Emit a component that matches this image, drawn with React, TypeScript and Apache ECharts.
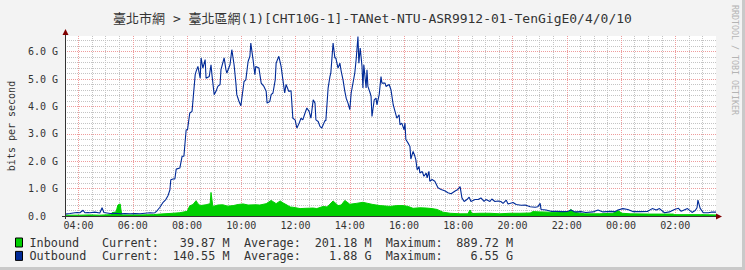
import React, { useEffect, useRef } from 'react';
import * as echarts from 'echarts';

const titleText = '臺北市網 > 臺北區網(1)[CHT10G-1]-TANet-NTU-ASR9912-01-TenGigE0/4/0/10';
const yAxisName = 'bits per second';
const watermark = 'RRDTOOL / TOBI OETIKER';

// time in minutes since 00:00 of the first day (values > 1440 are next day)
const outTimes = [210,221,232,237,243,250,254,261,265,276,287,292,296,310,321,332,343,354,365,376,387,398,405,409,414,420,427,433,438,442,444,449,453,456,464,469,473,478,481,486,491,498,500,504,509,511,515,520,522,529,533,535,540,544,548,553,555,562,566,568,575,579,584,588,590,595,599,606,610,615,619,621,626,630,632,639,644,650,655,657,663,666,670,675,677,683,688,692,696,699,705,710,714,719,723,728,732,736,741,745,750,754,759,763,765,770,774,778,785,787,792,796,798,803,807,809,814,818,821,825,829,832,836,840,843,847,851,854,858,860,863,867,869,871,876,878,880,885,887,889,894,898,900,905,909,911,918,920,927,931,936,940,944,949,951,955,960,962,964,969,973,975,980,984,986,989,993,995,1000,1004,1009,1011,1015,1017,1022,1028,1035,1042,1051,1057,1064,1073,1079,1084,1088,1093,1099,1104,1108,1117,1124,1130,1137,1141,1150,1154,1161,1168,1174,1179,1186,1190,1201,1208,1219,1228,1239,1250,1256,1261,1263,1274,1285,1296,1312,1323,1329,1338,1351,1362,1378,1389,1400,1416,1427,1433,1444,1455,1466,1482,1499,1509,1518,1525,1536,1547,1558,1567,1573,1587,1597,1604,1608,1610,1615,1622,1633,1639,1650];
// Gbit/s
const outValues = [0.07,0.09,0.12,0.13,0.12,0.21,0.12,0.13,0.12,0.14,0.11,0.30,0.13,0.09,0.10,0.08,0.09,0.08,0.09,0.08,0.10,0.12,0.11,0.12,0.20,0.32,0.50,0.60,0.75,0.95,1.32,1.35,1.35,1.71,1.75,2.18,2.18,3.15,3.15,3.76,3.82,5.16,5.28,5.46,5.03,5.77,5.40,5.71,5.03,5.09,5.52,5.16,4.43,4.55,4.73,4.80,5.34,5.77,5.34,5.22,5.52,6.07,5.52,4.85,4.43,4.18,4.02,4.91,4.97,5.64,5.83,6.31,5.71,5.16,5.46,5.40,4.85,4.73,4.55,4.12,4.18,4.43,4.49,4.97,5.58,5.83,5.46,4.97,4.49,4.80,4.55,4.57,3.57,3.51,3.21,3.39,3.57,3.51,3.76,3.94,3.82,3.57,4.24,4.12,3.51,3.45,3.27,3.21,3.48,3.48,4.67,5.09,5.22,6.31,5.77,5.77,5.40,5.58,5.28,4.97,4.55,4.30,4.12,3.88,4.49,4.85,5.22,5.71,6.55,5.58,6.13,5.46,4.67,5.52,4.67,5.34,4.73,4.49,4.37,3.63,4.24,4.30,4.06,4.43,5.09,4.85,4.85,4.73,4.80,4.61,4.06,3.82,3.57,3.69,3.33,3.39,3.15,3.39,2.79,2.66,2.54,2.08,2.36,2.18,2.06,1.69,1.81,1.57,1.63,1.45,1.57,1.39,1.63,1.27,1.33,1.27,1.03,0.97,0.91,0.85,0.81,0.91,0.97,1.07,0.66,0.53,0.60,0.69,0.53,0.60,0.60,0.66,0.53,0.60,0.53,0.62,0.53,0.55,0.53,0.46,0.58,0.44,0.49,0.42,0.39,0.40,0.34,0.32,0.34,0.46,0.24,0.22,0.17,0.17,0.16,0.17,0.22,0.15,0.16,0.13,0.15,0.22,0.15,0.17,0.16,0.22,0.27,0.24,0.16,0.16,0.17,0.27,0.22,0.27,0.12,0.15,0.24,0.28,0.17,0.27,0.13,0.20,0.30,0.58,0.28,0.12,0.12,0.14,0.14];

const inTimes = [210,243,265,287,310,314,323,327,332,334,336,376,405,420,449,464,480,486,493,500,504,509,522,531,533,537,548,559,570,582,593,604,615,632,641,655,666,677,686,692,701,708,714,730,741,759,767,781,790,803,814,821,829,840,854,869,880,891,907,929,944,958,969,980,995,1009,1022,1033,1046,1062,1084,1101,1106,1110,1128,1150,1172,1194,1216,1239,1245,1261,1283,1305,1323,1329,1336,1349,1360,1393,1422,1433,1442,1460,1504,1555,1559,1615,1650];
const inValues = [0.03,0.03,0.04,0.03,0.05,0.12,0.15,0.40,0.44,0.20,0.04,0.04,0.05,0.07,0.10,0.12,0.17,0.37,0.42,0.56,0.45,0.38,0.41,0.45,0.86,0.35,0.40,0.41,0.36,0.38,0.42,0.44,0.40,0.41,0.40,0.45,0.57,0.45,0.55,0.48,0.40,0.33,0.32,0.27,0.28,0.29,0.27,0.35,0.33,0.55,0.38,0.40,0.57,0.43,0.46,0.50,0.46,0.42,0.38,0.35,0.38,0.38,0.35,0.28,0.30,0.29,0.27,0.24,0.14,0.10,0.08,0.08,0.22,0.09,0.10,0.10,0.08,0.10,0.10,0.11,0.16,0.15,0.14,0.15,0.15,0.24,0.14,0.10,0.08,0.08,0.10,0.20,0.10,0.08,0.07,0.07,0.05,0.05,0.04];

const seriesNames = ['Inbound', 'Outbound'];
const seriesColors = ['#00CF00', '#002A97'];
const legendCurrent = ['39.87 M', '140.55 M'];
const legendAverage = ['201.18 M', '1.88 G'];
const legendMaximum = ['889.72 M', '6.55 G'];

const X_MIN = 210;
const X_MAX = 1650;
const Y_MAX = 6.57;

const MONO = "'DejaVu Sans Mono', 'Noto Sans CJK TC', monospace";
const TXT = '#333333';
const MINOR = '#C4C4C4';
const MAJOR = '#EE9C9C';

const pad2 = (n: number) => (n < 10 ? '0' + n : '' + n);

export default function App() {
  const ref = useRef<HTMLDivElement>(null);
  useEffect(() => {
    if (!ref.current) return;
    const chart = echarts.init(ref.current, undefined, { renderer: 'svg' });

    const legendGraphics: any[] = [];
    seriesNames.forEach((name, r) => {
      const cy = 242.5 + r * 13.4;
      legendGraphics.push({
        type: 'rect', shape: { x: 15.5, y: cy - 4.5, width: 7, height: 9 },
        style: { fill: seriesColors[r], stroke: '#000', lineWidth: 1 }, z: 100,
      });
      const t = (x: number, text: string, align: string) => ({
        type: 'text', x, y: cy,
        style: { text, fill: TXT, font: `11.8px ${MONO}`, textAlign: align, textVerticalAlign: 'middle' },
        z: 100,
      });
      legendGraphics.push(t(29.5, name, 'left'));
      legendGraphics.push(t(102, 'Current:', 'left'));
      legendGraphics.push(t(229.5, legendCurrent[r], 'right'));
      legendGraphics.push(t(244, 'Average:', 'left'));
      legendGraphics.push(t(371.5, legendAverage[r], 'right'));
      legendGraphics.push(t(385.7, 'Maximum:', 'left'));
      legendGraphics.push(t(513, legendMaximum[r], 'right'));
    });

    chart.setOption({
      animation: false,
      backgroundColor: '#F3F3F3',
      title: {
        text: titleText, left: 'center', top: 7,
        textStyle: { fontFamily: MONO, fontSize: 13, fontWeight: 'normal', color: TXT },
      },
      grid: {
        left: 65, top: 36, width: 651, height: 180,
        containLabel: false, outerBoundsMode: 'none',
        show: true, backgroundColor: '#FFFFFF', borderWidth: 0,
      },
      xAxis: {
        type: 'value', min: X_MIN, max: X_MAX, interval: 30,
        axisLine: { show: true, lineStyle: { color: '#333' } },
        axisTick: { show: false },
        axisLabel: {
          interval: 0, margin: 4, color: TXT, fontFamily: MONO, fontSize: 10,
          formatter: (v: number) => {
            const m = Math.round(v);
            if (m % 120 !== 0) return '';
            const d = m % 1440;
            return pad2(Math.floor(d / 60)) + ':' + pad2(d % 60);
          },
        },
        splitLine: {
          show: true, showMaxLine: false,
          lineStyle: { color: [MINOR, MAJOR, MINOR, MINOR], type: [1, 1], width: 1 },
        },
      },
      yAxis: {
        type: 'value', min: 0, max: Y_MAX, interval: 0.2,
        name: yAxisName, nameLocation: 'middle', nameGap: 49,
        nameTextStyle: { fontFamily: MONO, fontSize: 10, color: TXT },
        axisLine: { show: true, lineStyle: { color: '#333' } },
        axisTick: { show: false },
        axisLabel: {
          align: 'left', margin: 37, color: TXT, fontFamily: MONO, fontSize: 10,
          formatter: (v: number) => {
            if (Math.abs(v - Math.round(v)) > 1e-6) return '';
            const n = Math.round(v);
            return n === 0 ? '0.0' : n.toFixed(1) + ' G';
          },
        },
        splitLine: {
          show: true, showMaxLine: false,
          lineStyle: { color: [MAJOR, MINOR, MINOR, MINOR, MINOR], type: [1, 1], width: 1 },
        },
      },
      series: [
        {
          type: 'line', name: seriesNames[0],
          data: inTimes.map((t, i) => [t, inValues[i]]),
          symbol: 'none', showSymbol: false,
          lineStyle: { width: 1, color: seriesColors[0] },
          itemStyle: { color: seriesColors[0] },
          areaStyle: { color: seriesColors[0], opacity: 1 },
          z: 2,
        },
        {
          type: 'line', name: seriesNames[1],
          data: outTimes.map((t, i) => [t, outValues[i]]),
          symbol: 'none', showSymbol: false,
          lineStyle: { width: 1.1, color: seriesColors[1] },
          itemStyle: { color: seriesColors[1] },
          z: 3,
        },
      ],
      graphic: [
        // frame shading
        { type: 'rect', shape: { x: 742, y: 0, width: 3, height: 270 }, style: { fill: '#C9C9C9' }, z: 0 },
        { type: 'rect', shape: { x: 0, y: 267, width: 745, height: 3 }, style: { fill: '#C9C9C9' }, z: 0 },
        // axis lines over data, with arrows
        { type: 'line', shape: { x1: 62, y1: 216.5, x2: 717, y2: 216.5 }, style: { stroke: '#333', lineWidth: 1 }, z: 100 },
        { type: 'line', shape: { x1: 65.5, y1: 219, x2: 65.5, y2: 33 }, style: { stroke: '#333', lineWidth: 1 }, z: 100 },
        { type: 'polygon', shape: { points: [[62.5, 35], [68.5, 35], [65.5, 29]] }, style: { fill: '#800000' }, z: 101 },
        { type: 'polygon', shape: { points: [[716, 213.5], [716, 219.5], [722, 216.5]] }, style: { fill: '#800000' }, z: 101 },
        {
          type: 'text', x: 735, y: 60, rotation: -Math.PI / 2,
          style: { text: watermark, fill: '#B4B4B4', font: `8.3px ${MONO}`, textAlign: 'center', textVerticalAlign: 'middle' },
          z: 100,
        },
        ...legendGraphics,
      ],
    });
    return () => chart.dispose();
  }, []);
  return (
    <div
      ref={ref}
      style={{ position: 'fixed', left: 0, top: 0, width: 745, height: 270 }}
    />
  );
}
